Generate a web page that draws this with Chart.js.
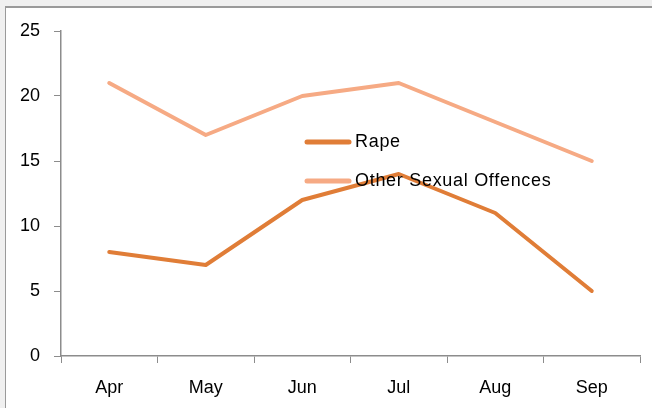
<!DOCTYPE html>
<html>
<head>
<meta charset="utf-8">
<script src="https://cdn.jsdelivr.net/npm/chart.js@4.4.1/dist/chart.umd.min.js"></script>
<style>
  html, body { margin: 0; padding: 0; background: #fff; }
  #wrap { position: relative; width: 652px; height: 408px; overflow: hidden; background: #f0f0f0; }
  #frame { position: absolute; left: 5px; top: 6px; width: 660px; height: 420px; background: #fff;
           border-left: 1px solid #9a9a9a; border-top: 2px solid #9a9a9a; }
  #chart { position: absolute; left: 0; top: 0; }
</style>
</head>
<body>
<div id="wrap">
  <div id="frame"></div>
  <canvas id="chart" width="652" height="408"></canvas>
</div>
<script>
const months = ["Apr", "May", "Jun", "Jul", "Aug", "Sep"];
const rapeCounts = [8, 7, 12, 14, 11, 5];
const otherCounts = [21, 17, 20, 21, 18, 15];
const yTicks = [0, 5, 10, 15, 20, 25];

const rapeColor = "#E07D37";
const otherColor = "#F6AA84";
const axisColor = "#8c8c8c";
const fontFamily = "'Liberation Sans', Arial, sans-serif";

// legend drawn inside the plot, like the original
const innerLegend = {
  id: "innerLegend",
  afterDatasetsDraw(chart) {
    const ctx = chart.ctx;
    const rowY = [142, 181];
    ctx.save();
    chart.data.datasets.forEach((ds, i) => {
      const y = rowY[i];
      ctx.strokeStyle = ds.borderColor;
      ctx.lineWidth = 5;
      ctx.lineCap = "round";
      ctx.beginPath();
      ctx.moveTo(307, y);
      ctx.lineTo(349, y);
      ctx.stroke();
      ctx.fillStyle = "#000";
      ctx.font = "18px " + fontFamily;
      ctx.letterSpacing = "0.7px";
      ctx.textBaseline = "middle";
      ctx.fillText(ds.label, 355, y);
    });
    ctx.restore();
  }
};

new Chart(document.getElementById("chart"), {
  type: "line",
  data: {
    labels: months,
    datasets: [
      {
        label: "Rape",
        data: rapeCounts,
        borderColor: rapeColor,
        borderWidth: 4,
        pointRadius: 0,
        tension: 0,
        borderCapStyle: "round",
        borderJoinStyle: "round"
      },
      {
        label: "Other Sexual Offences",
        data: otherCounts,
        borderColor: otherColor,
        borderWidth: 4,
        pointRadius: 0,
        tension: 0,
        borderCapStyle: "round",
        borderJoinStyle: "round"
      }
    ]
  },
  options: {
    responsive: false,
    animation: false,
    layout: { padding: { left: 0, top: 31, right: 12, bottom: 0 } },
    plugins: {
      legend: { display: false },
      tooltip: { enabled: false }
    },
    scales: {
      x: {
        offset: true,
        grid: {
          offset: true,
          drawOnChartArea: false,
          color: axisColor,
          tickLength: 7
        },
        border: { color: axisColor, width: 1.5 },
        ticks: {
          color: "#000",
          font: { family: fontFamily, size: 18 },
          padding: 14,
          maxRotation: 0
        },
        afterFit(scale) { scale.height = 52; }
      },
      y: {
        min: 0,
        max: 25,
        afterBuildTicks(scale) { scale.ticks = yTicks.map(v => ({ value: v })); },
        grid: {
          drawOnChartArea: false,
          color: axisColor,
          tickLength: 7
        },
        border: { color: axisColor, width: 1.5 },
        ticks: {
          color: "#000",
          font: { family: fontFamily, size: 18 },
          padding: 14
        },
        afterFit(scale) { scale.width = 61; }
      }
    }
  },
  plugins: [innerLegend]
});
</script>
</body>
</html>
